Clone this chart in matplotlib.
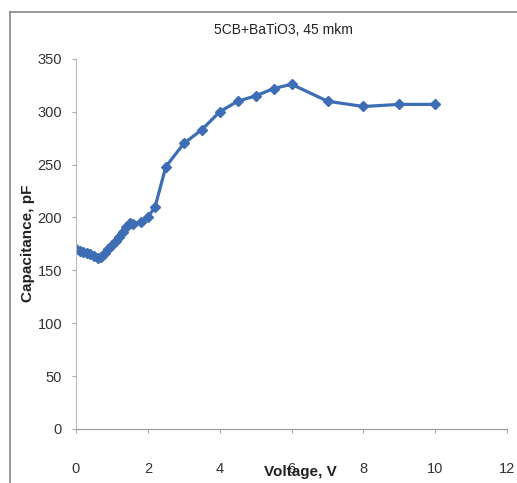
import matplotlib
matplotlib.use("Agg")
import matplotlib.pyplot as plt
from matplotlib.lines import Line2D

# capacitance vs applied voltage, 5CB + BaTiO3 cell
voltage = [0, 0.1, 0.2, 0.3, 0.4, 0.5, 0.6, 0.7, 0.8, 0.9, 1.0, 1.1, 1.2,
           1.3, 1.4, 1.5, 1.6, 1.8, 2.0, 2.2, 2.5, 3.0, 3.5, 4.0, 4.5,
           5.0, 5.5, 6.0, 7.0, 8.0, 9.0, 10.0]
capacitance = [170, 168, 167, 166, 165, 164, 162, 163, 166, 170, 174, 178,
               182, 186, 191, 195, 194, 196, 200, 210, 248, 270, 283, 300,
               310, 315, 322, 326, 310, 305, 307, 307]

x_ticks = [0, 2, 4, 6, 8, 10, 12]
y_ticks = [0, 50, 100, 150, 200, 250, 300, 350]

font = ["Liberation Sans", "DejaVu Sans"]

fig = plt.figure(figsize=(5.17, 4.83), dpi=100)
ax = fig.add_axes([0.147, 0.112, 0.834, 0.766])

ax.plot(voltage, capacitance, color="#3d6db5", lw=2.3, marker="D",
        markersize=5.5, markerfacecolor="#3d6db5", markeredgecolor="#3d6db5")

ax.set_xlim(0, 12)
ax.set_ylim(0, 350)
ax.set_xticks(x_ticks)
ax.set_yticks(y_ticks)
ax.set_xticklabels([str(t) for t in x_ticks], family=font, fontsize=10.5, color="#333333")
ax.set_yticklabels([str(t) for t in y_ticks], family=font, fontsize=10.5, color="#333333")
ax.tick_params(axis="both", direction="out", length=3, color="#aaaaaa")
ax.tick_params(axis="x", pad=21)
ax.tick_params(axis="y", pad=7)

for side in ["top", "right"]:
    ax.spines[side].set_visible(False)
ax.spines["left"].set_color("#bbbbbb")
ax.spines["bottom"].set_color("#999999")

fig.text(283 / 517, 1 - 30 / 483, "5CB+BaTiO3, 45 mkm", family=font, fontsize=10,
         ha="center", va="center", color="#222222")
fig.text(300 / 517, 0.022, "Voltage, V", family=font, fontsize=11, fontweight="bold",
         ha="center", va="center", color="#222222")
fig.text(28 / 517, 1 - 243 / 483, "Capacitance, pF", family=font, fontsize=11,
         fontweight="bold", rotation=90, ha="center", va="center", color="#222222")

# outer chart frame
fig.add_artist(Line2D([10 / 517, 10 / 517], [0, 1 - 12 / 483], color="#888888", lw=1.2))
fig.add_artist(Line2D([10 / 517, 1], [1 - 12 / 483, 1 - 12 / 483], color="#888888", lw=1.2))

fig.savefig("out.png", dpi=100)
